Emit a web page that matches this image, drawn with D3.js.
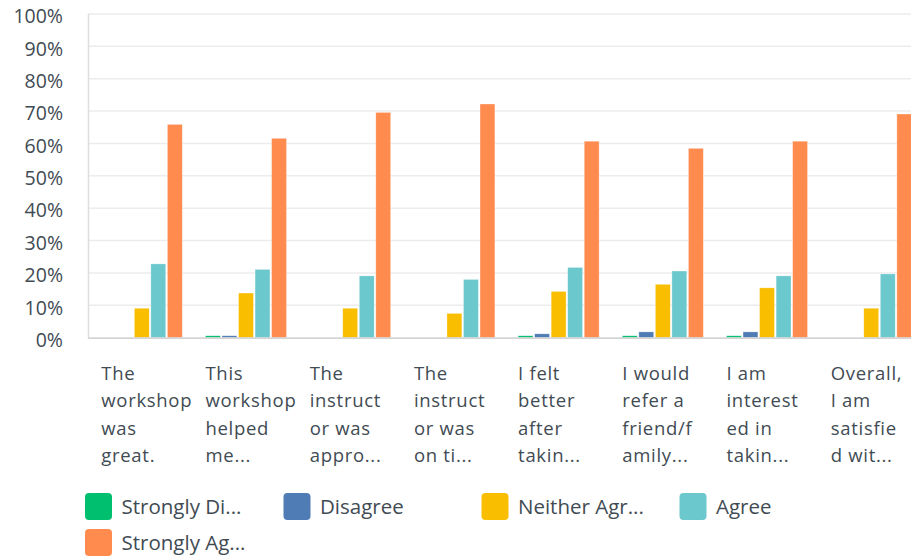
<!DOCTYPE html>
<html>
<head>
<meta charset="utf-8">
<script src="https://cdn.jsdelivr.net/npm/d3@7"></script>
<style>
  html, body { margin: 0; padding: 0; background: #fff; overflow: hidden; }
  svg { display: block; }
  text { font-family: "Open Sans", "DejaVu Sans", sans-serif; fill: #414b53; }
</style>
</head>
<body>
<svg id="chart" width="911" height="558"></svg>
<script>
// ---- data ----
const categories = [
  ["The", "workshop", "was", "great."],
  ["This", "workshop", "helped", "me..."],
  ["The", "instruct", "or was", "appro..."],
  ["The", "instruct", "or was", "on ti..."],
  ["I felt", "better", "after", "takin..."],
  ["I would", "refer a", "friend/f", "amily..."],
  ["I am", "interest", "ed in", "takin..."],
  ["Overall,", "I am", "satisfie", "d wit..."]
];
const seriesNames = ["Strongly Di...", "Disagree", "Neither Agr...", "Agree", "Strongly Ag..."];
const seriesColors = ["#00bf6f", "#507cb6", "#f9be00", "#6bc8cd", "#ff8b4f"];
const stronglyDisagree = [0, 0.6, 0, 0, 0.6, 0.6, 0.6, 0];
const disagree         = [0, 0.6, 0, 0, 1.2, 1.8, 1.8, 0];
const neither          = [9.1, 13.8, 9.1, 7.5, 14.3, 16.5, 15.4, 9.1];
const agree            = [22.8, 21.1, 19.1, 18.0, 21.7, 20.6, 19.1, 19.7];
const stronglyAgree    = [65.9, 61.6, 69.6, 72.2, 60.7, 58.5, 60.7, 69.1];
const yTicks = [0, 10, 20, 30, 40, 50, 60, 70, 80, 90, 100];

const seriesValues = [stronglyDisagree, disagree, neither, agree, stronglyAgree];

// ---- layout ----
const svg = d3.select("#chart");
const plotLeft = 89.7, plotRight = 923.3, plotTop = 14, plotBottom = 337.7;

const catIdx = d3.range(categories.length);
const x0 = d3.scaleBand().domain(catIdx).range([plotLeft, plotRight])
  .paddingInner(0.2226).paddingOuter(0.111);
const x1 = d3.scaleBand().domain(d3.range(seriesNames.length)).range([0, x0.bandwidth()])
  .paddingInner(0.1).paddingOuter(0);
const y = d3.scaleLinear().domain([0, 100]).range([plotBottom, plotTop]);

// gridlines
svg.append("g").selectAll("line").data(yTicks.filter(d => d > 0)).join("line")
  .attr("x1", 88).attr("x2", 911)
  .attr("y1", d => y(d)).attr("y2", d => y(d))
  .attr("stroke", "#ececec").attr("stroke-width", 1.5);

// left axis line
svg.append("line").attr("x1", 88.5).attr("x2", 88.5).attr("y1", plotTop).attr("y2", plotBottom)
  .attr("stroke", "#dedede").attr("stroke-width", 1.5);

// y axis labels
const yAxis = d3.axisLeft(y).tickValues(yTicks).tickFormat(d => d + "%").tickSize(0).tickPadding(0);
const yg = svg.append("g").attr("transform", "translate(63,2.5)").call(yAxis);
yg.select(".domain").remove();
yg.selectAll("text").style("font-size", "19.5px").attr("fill", "#414b53")
  .style("font-family", '"Open Sans", sans-serif');

// bars
const groups = svg.append("g").selectAll("g").data(catIdx).join("g")
  .attr("transform", i => `translate(${x0(i)},0)`);
groups.selectAll("rect")
  .data(i => seriesValues.map((arr, s) => ({ s, v: arr[i] })))
  .join("rect")
  .attr("x", d => x1(d.s))
  .attr("width", x1.bandwidth())
  .attr("y", d => y(d.v))
  .attr("height", d => plotBottom - y(d.v))
  .attr("fill", d => seriesColors[d.s])
  .attr("stroke", "#fff").attr("stroke-opacity", 0.5).attr("stroke-width", 0.6);

// bottom axis line
svg.append("line").attr("x1", 88).attr("x2", 911).attr("y1", plotBottom + 0.5).attr("y2", plotBottom + 0.5)
  .attr("stroke", "#d4d4d4").attr("stroke-width", 1.8);

// category labels
const lab = svg.append("g").selectAll("text").data(catIdx).join("text")
  .attr("x", i => x0(i))
  .attr("y", 380)
  .style("font-size", "18.5px")
  .style("letter-spacing", "0.7px");
lab.selectAll("tspan").data(i => categories[i]).join("tspan")
  .attr("x", function() { return d3.select(this.parentNode).attr("x"); })
  .attr("dy", (d, k) => k === 0 ? 0 : 27.3)
  .text(d => d);

// legend
const legendPos = [[85, 493], [283.5, 493], [481.5, 493], [679.5, 493], [85, 529]];
const lg = svg.append("g").selectAll("g").data(seriesNames).join("g")
  .attr("transform", (d, i) => `translate(${legendPos[i][0]},${legendPos[i][1]})`);
lg.append("rect").attr("width", 27).attr("height", 27).attr("rx", 4)
  .attr("fill", (d, i) => seriesColors[i]);
lg.append("text").attr("x", 36.5).attr("y", 21)
  .style("font-size", "20.5px")
  .text(d => d);
</script>
</body>
</html>
